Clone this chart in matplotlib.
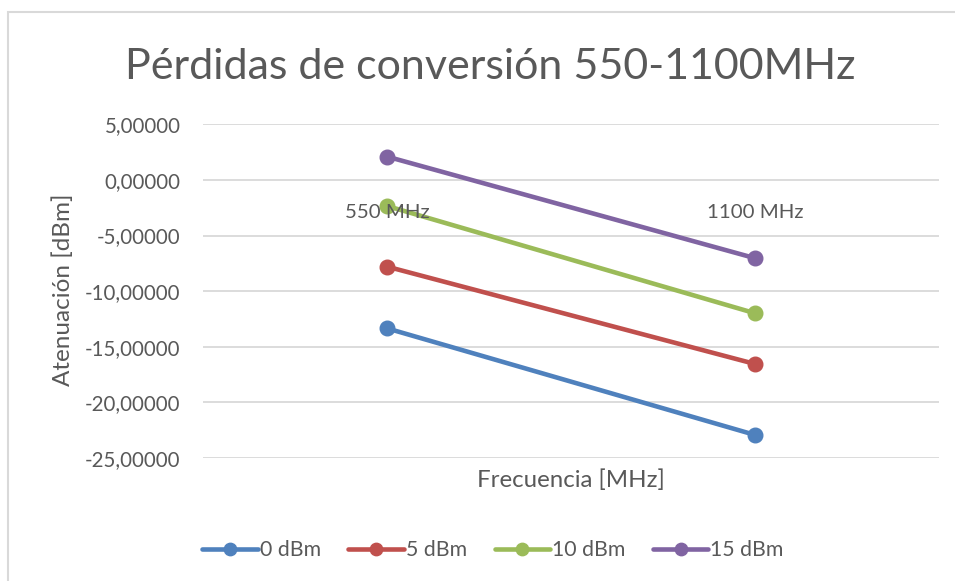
import matplotlib.pyplot as plt
from matplotlib.patches import Rectangle

plt.rcParams['font.family'] = ['Lato', 'DejaVu Sans']

# attenuation at each frequency, one series per input power
categories = ['550 MHz', '1100 MHz']
series_names = ['0 dBm', '5 dBm', '10 dBm', '15 dBm']
atten_0dbm = [-13.34, -22.93]
atten_5dbm = [-7.79, -16.55]
atten_10dbm = [-2.34, -11.99]
atten_15dbm = [2.10, -7.04]
yticks = [5, 0, -5, -10, -15, -20, -25]

colors = ['#4F81BD', '#C0504D', '#9BBB59', '#8064A2']
text_gray = '#595959'

W, H = 955, 581
fig = plt.figure(figsize=(W / 100, H / 100), dpi=100)
ax = fig.add_axes([202.7 / W, 1 - 458 / H, (939.3 - 202.7) / W, (458 - 124.3) / H])

# chart area border (runs off the right and bottom edges)
fig.patches.append(Rectangle((8 / W, -0.05), 1.1, 1 - 12.5 / H + 0.05, transform=fig.transFigure,
                             fill=False, edgecolor='#D9D9D9', linewidth=1.5))

x = list(range(len(categories)))
for vals, name, c in zip([atten_0dbm, atten_5dbm, atten_10dbm, atten_15dbm], series_names, colors):
    ax.plot(x, vals, color=c, linewidth=3.3, marker='o', markersize=10.5,
            solid_capstyle='round', label=name, zorder=3)

ax.set_xlim(-0.5, 1.5)
ax.set_ylim(-25, 5)
ax.set_yticks(yticks)
ax.set_yticklabels([f'{v:.5f}'.replace('.', ',') for v in yticks], fontsize=14.8, color=text_gray)
ax.set_xticks([])
ax.tick_params(axis='y', length=0, pad=16)
ax.grid(axis='y', color='#D9D9D9', linewidth=1.3)
ax.set_axisbelow(True)
for s in ax.spines.values():
    s.set_visible(False)

# category labels sit under the horizontal axis, which crosses at 0
for xi, lab in zip(x, categories):
    ax.annotate(lab, (xi, 0), xytext=(0, -33), textcoords='offset pixels',
                ha='center', va='center', fontsize=14.7, color=text_gray)

fig.text(490 / W, 1 - 67 / H, 'Pérdidas de conversión 550-1100MHz', ha='center', va='center',
         fontsize=31, color=text_gray)
fig.text(571 / W, 1 - 480 / H, 'Frecuencia [MHz]', ha='center', va='center',
         fontsize=17.3, color=text_gray)
fig.text(63 / W, 1 - 290 / H, 'Atenuación [dBm]', ha='center', va='center', rotation=90,
         fontsize=17.5, color=text_gray)

leg = fig.legend(loc='center', bbox_to_anchor=(493 / W, 1 - 550 / H), ncol=4, frameon=False,
                 fontsize=15.3, handlelength=2.6, handletextpad=0.1, columnspacing=1.3,
                 markerscale=0.85)
for t in leg.get_texts():
    t.set_color(text_gray)

fig.savefig('out.png', dpi=100)
